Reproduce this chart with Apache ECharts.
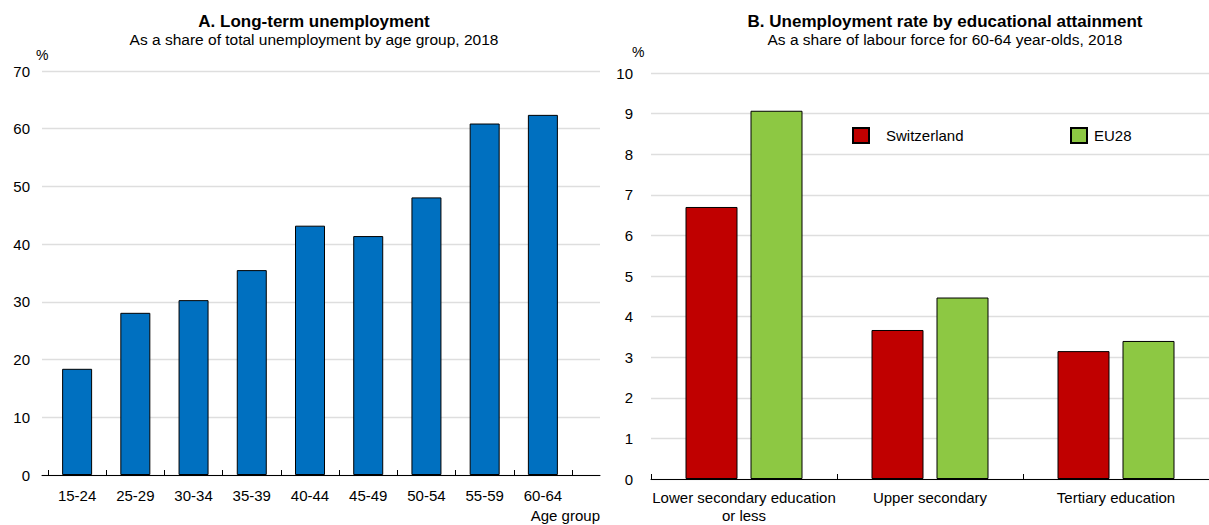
<!DOCTYPE html>
<html>
<head>
<meta charset="utf-8">
<script src="https://cdn.jsdelivr.net/npm/echarts@6/dist/echarts.min.js"></script>
<style>
html,body{margin:0;padding:0;background:#fff;}
#c{width:1209px;height:525px;}
</style>
</head>
<body>
<div id="c"></div>
<script>
// ---- Panel A data ----
const ageGroups = ['15-24', '25-29', '30-34', '35-39', '40-44', '45-49', '50-54', '55-59', '60-64'];
const longTermShare = [18.4, 28.1, 30.3, 35.5, 43.2, 41.4, 48.1, 60.9, 62.4];
const panelATicks = { min: 0, max: 70, interval: 10 };

// ---- Panel B data ----
const eduLevels = ['Lower secondary education\nor less', 'Upper secondary', 'Tertiary education'];
const switzerland = [6.7, 3.67, 3.15];
const eu28 = [9.07, 4.47, 3.4];
const panelBTicks = { min: 0, max: 10, interval: 1 };

const FONT = "'Liberation Sans', Arial, Helvetica, sans-serif";
const GRID_COLOR = '#dedede';
const BLUE = '#0070C0', RED = '#C00000', GREEN = '#8DC843';
const FS = 15;

const chart = echarts.init(document.getElementById('c'), null, { renderer: 'svg' });

const option = {
  animation: false,
  textStyle: { fontFamily: FONT, color: '#000' },
  title: [
    {
      text: 'A. Long-term unemployment',
      subtext: 'As a share of total unemployment by age group, 2018',
      left: 309, top: 8, textAlign: 'center', itemGap: 1,
      textStyle: { fontFamily: FONT, fontSize: 17, fontWeight: 'bold', color: '#000' },
      subtextStyle: { fontFamily: FONT, fontSize: 15.5, color: '#000' }
    },
    {
      text: 'B. Unemployment rate by educational attainment',
      subtext: 'As a share of labour force for 60-64 year-olds, 2018',
      left: 940, top: 8, textAlign: 'center', itemGap: 1,
      textStyle: { fontFamily: FONT, fontSize: 17, fontWeight: 'bold', color: '#000' },
      subtextStyle: { fontFamily: FONT, fontSize: 15.5, color: '#000' }
    }
  ],
  legend: [
    {
      data: [{ name: 'Switzerland', icon: 'rect' }], left: 847, top: 122, itemWidth: 16, itemHeight: 15,
      textStyle: { fontFamily: FONT, fontSize: FS, color: '#000', padding: [0, 0, 0, 12] }
    },
    {
      data: [{ name: 'EU28', icon: 'rect' }], left: 1065, top: 122, itemWidth: 16, itemHeight: 15,
      textStyle: { fontFamily: FONT, fontSize: FS, color: '#000', padding: [0, 0, 0, 2] }
    }
  ],
  grid: [
    { left: 42, top: 71, width: 558, height: 404 },   // panel A frame (gridlines, axis line)
    { left: 48, top: 71, width: 524, height: 404 },   // panel A bars
    { left: 651, top: 73, width: 578, height: 406 }   // panel B
  ],
  xAxis: [
    {
      gridIndex: 0, type: 'value', min: 0, max: 1, show: true,
      axisLine: { show: true, lineStyle: { color: '#000', width: 1 } },
      axisTick: { show: false }, axisLabel: { show: false }, splitLine: { show: false },
      name: 'Age group', nameLocation: 'end', nameGap: 0,
      nameTextStyle: { fontFamily: FONT, fontSize: FS, color: '#000', align: 'right', verticalAlign: 'top', padding: [33, 0, 0, 0] }
    },
    {
      gridIndex: 1, type: 'category', data: ageGroups,
      axisLine: { show: false },
      axisTick: { show: true, inside: true, length: 5, lineStyle: { color: '#000' } },
      axisLabel: { fontFamily: FONT, fontSize: FS, color: '#000', margin: 13, interval: 0 },
      splitLine: { show: false }
    },
    {
      gridIndex: 2, type: 'category', data: eduLevels,
      axisLine: { show: true, lineStyle: { color: '#000', width: 1 } },
      axisTick: { show: true, inside: true, length: 5, lineStyle: { color: '#000' } },
      axisLabel: { fontFamily: FONT, fontSize: FS, color: '#000', margin: 9, lineHeight: 18, interval: 0 },
      splitLine: { show: false }
    }
  ],
  yAxis: [
    {
      gridIndex: 0, type: 'value', min: panelATicks.min, max: panelATicks.max, interval: panelATicks.interval,
      axisLine: { show: false }, axisTick: { show: false },
      axisLabel: { fontFamily: FONT, fontSize: FS, color: '#000', margin: 12 },
      splitLine: { show: true, lineStyle: { color: GRID_COLOR, width: 1.3 } }
    },
    {
      gridIndex: 1, type: 'value', min: panelATicks.min, max: panelATicks.max, interval: panelATicks.interval,
      show: false, splitLine: { show: false }
    },
    {
      gridIndex: 2, type: 'value', min: panelBTicks.min, max: panelBTicks.max, interval: panelBTicks.interval,
      axisLine: { show: false }, axisTick: { show: false },
      axisLabel: { fontFamily: FONT, fontSize: FS, color: '#000', margin: 18 },
      splitLine: { show: true, lineStyle: { color: GRID_COLOR, width: 1.3 } }
    }
  ],
  graphic: [
    { type: 'text', left: 36, top: 48, style: { text: '%', fontFamily: FONT, fontSize: 14, fill: '#000' } },
    { type: 'text', left: 632, top: 45, style: { text: '%', fontFamily: FONT, fontSize: 14, fill: '#000' } }
  ],
  series: [
    {
      name: 'Long-term unemployment', type: 'bar', xAxisIndex: 1, yAxisIndex: 1,
      data: longTermShare, barWidth: 30,
      itemStyle: { color: BLUE, borderColor: '#000', borderWidth: 1 }
    },
    {
      name: 'Switzerland', type: 'bar', xAxisIndex: 2, yAxisIndex: 2,
      data: switzerland, barWidth: 52, barGap: '25%',
      itemStyle: { color: RED, borderColor: '#000', borderWidth: 1 }
    },
    {
      name: 'EU28', type: 'bar', xAxisIndex: 2, yAxisIndex: 2,
      data: eu28, barWidth: 52, barGap: '25%',
      itemStyle: { color: GREEN, borderColor: '#000', borderWidth: 1 }
    }
  ]
};
chart.setOption(option);
</script>
</body>
</html>
